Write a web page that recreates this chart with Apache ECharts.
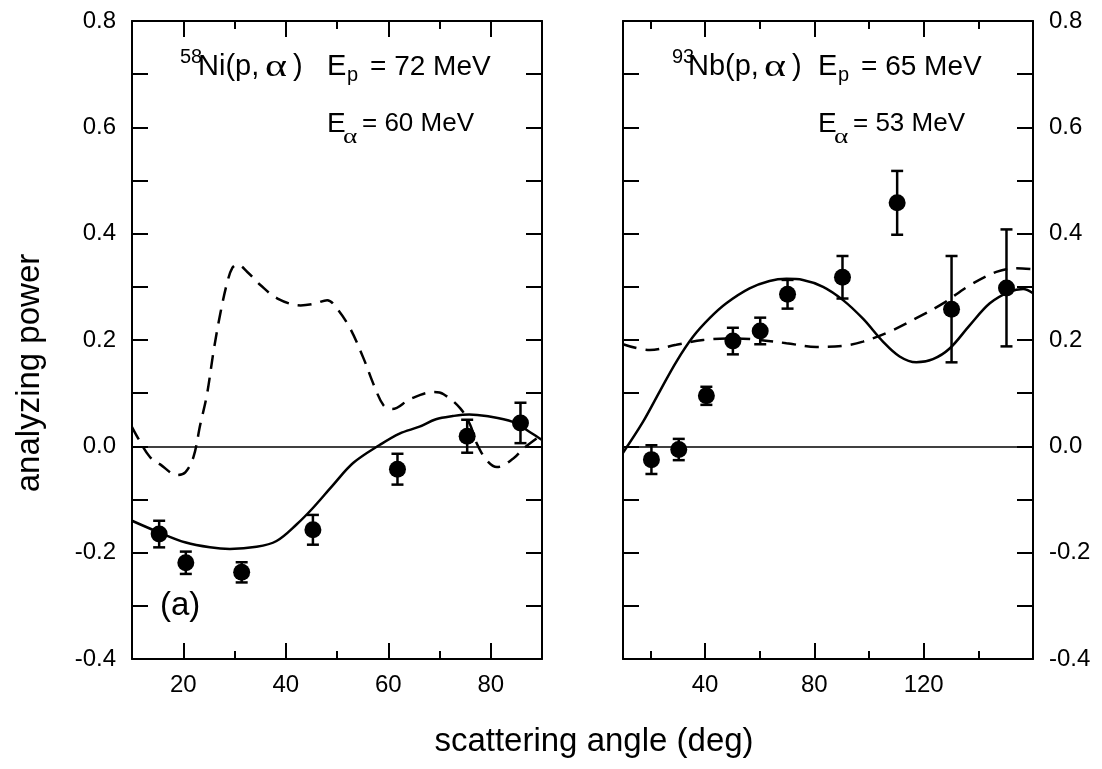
<!DOCTYPE html>
<html>
<head>
<meta charset="utf-8">
<script src="https://cdn.jsdelivr.net/npm/echarts@6/dist/echarts.min.js"></script>
<style>
  html, body { margin: 0; padding: 0; background: #fff; }
  #chart { width: 1102px; height: 769px; }
</style>
</head>
<body>
<div id="chart"></div>
<script>
// ---------- Data ----------
// Panel (a): 58Ni(p,alpha)
const niSolidX = [10, 15.3, 20.5, 25.2, 29.1, 34.3, 38.2, 42.1, 45.3, 49.3, 53.2, 58.4, 62.2, 66.1, 69.3, 72.6, 75.8, 79.1, 84.3, 87.6, 90];
const niSolidY = [-0.140, -0.162, -0.181, -0.190, -0.193, -0.189, -0.178, -0.147, -0.116, -0.072, -0.031, 0.003, 0.024, 0.037, 0.051, 0.057, 0.060, 0.057, 0.046, 0.027, 0.012];
const niDashX = [10, 11.2, 13.5, 15.5, 18.8, 20.4, 22.0, 23.3, 24.6, 26.0, 27.3, 28.6, 29.6, 30.6, 32.5, 35.1, 38.4, 42.9, 45.5, 48.1, 50.0, 52.6, 55.2, 57.2, 59.1, 60.8, 64.3, 68.9, 70.8, 74.1, 76.0, 77.3, 79.2, 81.2, 84.4, 86.4, 90];
const niDashY = [0.036, 0.015, -0.020, -0.034, -0.054, -0.049, -0.020, 0.040, 0.096, 0.184, 0.253, 0.309, 0.336, 0.342, 0.328, 0.303, 0.278, 0.265, 0.268, 0.275, 0.259, 0.221, 0.165, 0.115, 0.077, 0.070, 0.089, 0.102, 0.098, 0.071, 0.040, 0.005, -0.026, -0.039, -0.023, -0.004, 0.022];
const niPtsX = [15.3, 20.5, 31.4, 45.3, 61.8, 75.4, 85.8];
const niPtsY = [-0.165, -0.219, -0.237, -0.157, -0.043, 0.019, 0.044];
const niPtsErr = [0.025, 0.021, 0.019, 0.028, 0.029, 0.031, 0.038];

// Panel (b): 93Nb(p,alpha)
const nbSolidX = [10, 17.3, 23.4, 29.5, 35.6, 41.7, 47.8, 56.3, 63.6, 69.8, 75.8, 83.2, 90.5, 97.8, 105.1, 111.2, 117.3, 123.4, 129.5, 136.9, 144.2, 151.5, 156.4, 160];
const nbSolidY = [-0.012, 0.046, 0.103, 0.159, 0.206, 0.241, 0.269, 0.297, 0.311, 0.315, 0.313, 0.300, 0.275, 0.240, 0.197, 0.169, 0.158, 0.164, 0.184, 0.228, 0.269, 0.291, 0.296, 0.288];
const nbDashX = [10, 19.8, 29.5, 39.3, 51.5, 60.0, 69.8, 80.8, 90.5, 97.8, 107.6, 117.3, 127.1, 136.9, 146.6, 153.9, 160];
const nbDashY = [0.192, 0.181, 0.191, 0.200, 0.203, 0.200, 0.194, 0.187, 0.189, 0.197, 0.216, 0.241, 0.269, 0.303, 0.328, 0.335, 0.333];
const nbPtsX = [20.4, 30.4, 40.5, 50.2, 60.2, 70.2, 90.3, 110.3, 130.2, 150.3];
const nbPtsY = [-0.025, -0.006, 0.095, 0.198, 0.217, 0.286, 0.318, 0.458, 0.258, 0.298];
const nbPtsErr = [0.027, 0.020, 0.017, 0.025, 0.025, 0.027, 0.040, 0.060, 0.100, 0.110];

// Axis ranges and ticks
const niXRange = [10, 90];
const nbXRange = [10, 160];
const niXMajor = [20, 40, 60, 80];
const niXMinor = [30, 50, 70];
const nbXMajor = [40, 80, 120];
const nbXMinor = [20, 60, 100, 140];
const yRange = [-0.4, 0.8];
const yTickStep = 0.1;
const yLabels = [-0.4, -0.2, 0.0, 0.2, 0.4, 0.6, 0.8];

// Texts
const yTitle = 'analyzing power';
const xTitle = 'scattering angle (deg)';

// ---------- Build option ----------
const FONT = '"Liberation Sans", Arial, Helvetica, sans-serif';
const SERIF = '"Liberation Serif", "Times New Roman", serif';
const zip = (xs, ys) => xs.map((x, i) => [x, ys[i]]);
const zip3 = (xs, ys, es) => xs.map((x, i) => [x, ys[i], es[i]]);

function xAxes(gridIndex, range, major, minor) {
  const base = { type: 'value', gridIndex, min: range[0], max: range[1], splitLine: { show: false } };
  return [
    Object.assign({}, base, {
      position: 'bottom',
      axisLine: { show: true, onZero: false, lineStyle: { color: '#000', width: 2 } },
      axisTick: { show: true, inside: true, length: 16, customValues: major, lineStyle: { color: '#000', width: 2 } },
      axisLabel: { show: true, customValues: major, fontSize: 24, fontFamily: FONT, color: '#000', margin: 14 }
    }),
    Object.assign({}, base, {
      position: 'bottom',
      axisLine: { show: false, onZero: false },
      axisTick: { show: true, inside: true, length: 8, customValues: minor, lineStyle: { color: '#000', width: 2 } },
      axisLabel: { show: false }
    }),
    Object.assign({}, base, {
      position: 'top',
      axisLine: { show: true, onZero: false, lineStyle: { color: '#000', width: 2 } },
      axisTick: { show: true, inside: true, length: 16, customValues: major, lineStyle: { color: '#000', width: 2 } },
      axisLabel: { show: false }
    }),
    Object.assign({}, base, {
      position: 'top',
      axisLine: { show: false, onZero: false },
      axisTick: { show: true, inside: true, length: 8, customValues: minor, lineStyle: { color: '#000', width: 2 } },
      axisLabel: { show: false }
    })
  ];
}

function yAxis(gridIndex, position, showLabels) {
  return {
    type: 'value', gridIndex, position,
    min: yRange[0], max: yRange[1], interval: yTickStep,
    splitLine: { show: false },
    axisLine: { show: true, onZero: false, lineStyle: { color: '#000', width: 2 } },
    axisTick: { show: true, inside: true, length: 16, lineStyle: { color: '#000', width: 2 } },
    axisLabel: {
      show: showLabels, customValues: yLabels,
      formatter: v => v.toFixed(1),
      fontSize: 24, fontFamily: FONT, color: '#000', margin: 16
    }
  };
}

function panelSeries(xIdx, yIdx, solid, dash, pts) {
  return [
    {
      type: 'line', xAxisIndex: xIdx, yAxisIndex: yIdx, data: solid,
      smooth: 0.35, showSymbol: false, symbol: 'none', silent: true,
      lineStyle: { color: '#000', width: 2.5 },
      markLine: {
        silent: true, symbol: 'none', label: { show: false },
        lineStyle: { color: '#000', width: 1.6, type: 'solid' },
        data: [{ yAxis: 0 }]
      }
    },
    {
      type: 'line', xAxisIndex: xIdx, yAxisIndex: yIdx, data: dash,
      smooth: 0.35, showSymbol: false, symbol: 'none', silent: true,
      lineStyle: { color: '#000', width: 2.5, type: [14, 9] }
    },
    {
      type: 'custom', xAxisIndex: xIdx, yAxisIndex: yIdx, data: pts,
      silent: true,
      renderItem: function (params, api) {
        const x = api.value(0), y = api.value(1), e = api.value(2);
        const top = api.coord([x, y + e]);
        const bot = api.coord([x, y - e]);
        const hw = 6;
        const st = { stroke: '#000', lineWidth: 2.5 };
        return {
          type: 'group',
          children: [
            { type: 'line', shape: { x1: top[0], y1: top[1], x2: bot[0], y2: bot[1] }, style: st },
            { type: 'line', shape: { x1: top[0] - hw, y1: top[1], x2: top[0] + hw, y2: top[1] }, style: st },
            { type: 'line', shape: { x1: bot[0] - hw, y1: bot[1], x2: bot[0] + hw, y2: bot[1] }, style: st }
          ]
        };
      },
      encode: { x: 0, y: 1 }
    },
    {
      type: 'scatter', xAxisIndex: xIdx, yAxisIndex: yIdx,
      data: pts.map(p => [p[0], p[1]]),
      symbol: 'circle', symbolSize: 17, silent: true,
      itemStyle: { color: '#000', opacity: 1 },
      z: 5
    }
  ];
}

function txt(x, y, text, size, align, scaleX, family) {
  return {
    type: 'text', x, y, silent: true, scaleX: scaleX || 1,
    style: {
      text, fill: '#000', font: size + 'px ' + (family || FONT),
      align: align || 'left', textAlign: align || 'left',
      verticalAlign: 'middle', textVerticalAlign: 'middle'
    }
  };
}

const option = {
  animation: false,
  backgroundColor: '#fff',
  grid: [
    { left: 132, top: 21, width: 410, height: 638 },
    { left: 623, top: 21, width: 410, height: 638 }
  ],
  xAxis: [].concat(
    xAxes(0, niXRange, niXMajor, niXMinor),
    xAxes(1, nbXRange, nbXMajor, nbXMinor)
  ),
  yAxis: [
    yAxis(0, 'left', true),
    yAxis(0, 'right', false),
    yAxis(1, 'left', false),
    yAxis(1, 'right', true)
  ],
  series: [].concat(
    panelSeries(0, 0, zip(niSolidX, niSolidY), zip(niDashX, niDashY), zip3(niPtsX, niPtsY, niPtsErr)),
    panelSeries(4, 2, zip(nbSolidX, nbSolidY), zip(nbDashX, nbDashY), zip3(nbPtsX, nbPtsY, nbPtsErr))
  ),
  graphic: [
    // Panel (a) annotations
    txt(180, 57.5, '58', 20),
    txt(198, 67, 'Ni(p,', 29),
    txt(265, 68, '\u03B1', 31, 'left', 1.35, SERIF),
    txt(293, 67, ')', 29),
    txt(327, 67, 'E', 29),
    txt(347, 75.5, 'p', 20),
    txt(370, 67, '= 72 MeV', 28),
    txt(327, 124, 'E', 28),
    txt(343, 137, '\u03B1', 21, 'left', 1.3, SERIF),
    txt(362, 124, '= 60 MeV', 26),
    txt(160, 606, '(a)', 33),
    // Panel (b) annotations
    txt(672, 57.5, '93', 20),
    txt(688, 67, 'Nb(p,', 29),
    txt(764, 68, '\u03B1', 31, 'left', 1.35, SERIF),
    txt(792, 67, ')', 29),
    txt(818, 67, 'E', 29),
    txt(838, 75.5, 'p', 20),
    txt(861, 67, '= 65 MeV', 28),
    txt(818, 124, 'E', 28),
    txt(834, 137, '\u03B1', 21, 'left', 1.3, SERIF),
    txt(853, 124, '= 53 MeV', 26),
    // Axis titles
    {
      type: 'text', x: 30, y: 373, rotation: Math.PI / 2, silent: true,
      style: { text: yTitle, fill: '#000', font: '33px ' + FONT, align: 'center', textAlign: 'center', verticalAlign: 'middle', textVerticalAlign: 'middle' }
    },
    txt(594, 742, xTitle, 33, 'center')
  ]
};

const chart = echarts.init(document.getElementById('chart'), null, { renderer: 'canvas' });
chart.setOption(option);
</script>
</body>
</html>
